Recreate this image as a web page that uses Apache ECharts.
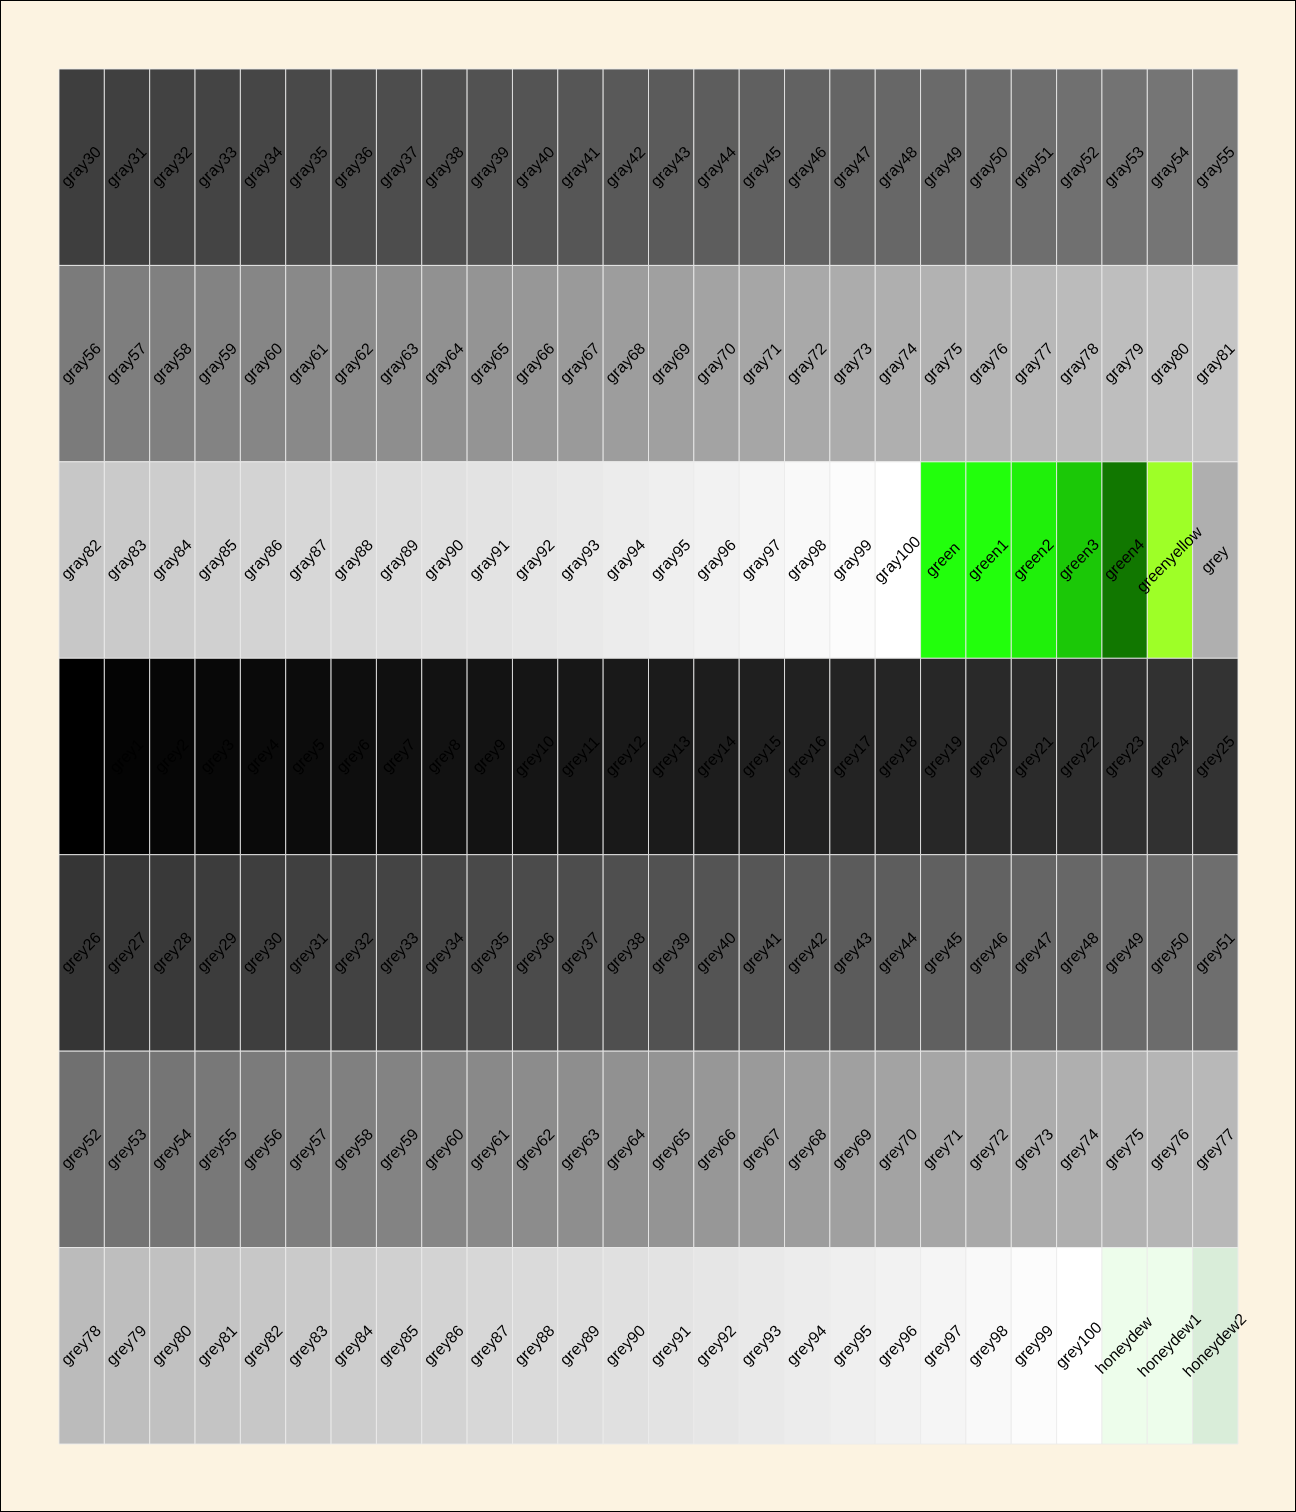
<!DOCTYPE html>
<html><head><meta charset="utf-8">
<script src="https://cdn.jsdelivr.net/npm/echarts@6/dist/echarts.min.js"></script>
<style>
html,body{margin:0;padding:0;background:#FCF3E1;}
#c{width:1296px;height:1512px;box-sizing:border-box;border:1px solid #000;}
</style>
</head><body><div id="c"></div>
<script>
// Column and row categories of the color grid
const columns = ['c1','c2','c3','c4','c5','c6','c7','c8','c9','c10','c11','c12','c13','c14','c15','c16','c17','c18','c19','c20','c21','c22','c23','c24','c25','c26'];
const rows = ['r1','r2','r3','r4','r5','r6','r7'];

// Color names, one array per row
const row1Names = ['gray30','gray31','gray32','gray33','gray34','gray35','gray36','gray37','gray38','gray39','gray40','gray41','gray42','gray43','gray44','gray45','gray46','gray47','gray48','gray49','gray50','gray51','gray52','gray53','gray54','gray55'];
const row2Names = ['gray56','gray57','gray58','gray59','gray60','gray61','gray62','gray63','gray64','gray65','gray66','gray67','gray68','gray69','gray70','gray71','gray72','gray73','gray74','gray75','gray76','gray77','gray78','gray79','gray80','gray81'];
const row3Names = ['gray82','gray83','gray84','gray85','gray86','gray87','gray88','gray89','gray90','gray91','gray92','gray93','gray94','gray95','gray96','gray97','gray98','gray99','gray100','green','green1','green2','green3','green4','greenyellow','grey'];
const row4Names = ['grey0','grey1','grey2','grey3','grey4','grey5','grey6','grey7','grey8','grey9','grey10','grey11','grey12','grey13','grey14','grey15','grey16','grey17','grey18','grey19','grey20','grey21','grey22','grey23','grey24','grey25'];
const row5Names = ['grey26','grey27','grey28','grey29','grey30','grey31','grey32','grey33','grey34','grey35','grey36','grey37','grey38','grey39','grey40','grey41','grey42','grey43','grey44','grey45','grey46','grey47','grey48','grey49','grey50','grey51'];
const row6Names = ['grey52','grey53','grey54','grey55','grey56','grey57','grey58','grey59','grey60','grey61','grey62','grey63','grey64','grey65','grey66','grey67','grey68','grey69','grey70','grey71','grey72','grey73','grey74','grey75','grey76','grey77'];
const row7Names = ['grey78','grey79','grey80','grey81','grey82','grey83','grey84','grey85','grey86','grey87','grey88','grey89','grey90','grey91','grey92','grey93','grey94','grey95','grey96','grey97','grey98','grey99','grey100','honeydew','honeydew1','honeydew2'];

// Displayed cell colors, one array per row
const row1Colors = ['#3E3E3E','#404040','#424242','#444444','#464646','#494949','#4B4B4B','#4D4D4D','#4F4F4F','#525252','#545454','#565656','#595959','#5B5B5B','#5D5D5D','#606060','#626262','#656565','#676767','#6A6A6A','#6C6C6C','#6E6E6E','#707070','#737373','#757575','#787878'];
const row2Colors = ['#7B7B7B','#7E7E7E','#808080','#838383','#868686','#898989','#8C8C8C','#8E8E8E','#919191','#949494','#979797','#9A9A9A','#9D9D9D','#A0A0A0','#A3A3A3','#A6A6A6','#A9A9A9','#ACACAC','#AFAFAF','#B2B2B2','#B5B5B5','#B8B8B8','#BBBBBB','#BEBEBE','#C1C1C1','#C4C4C4'];
const row3Colors = ['#C7C7C7','#CACACA','#CDCDCD','#D0D0D0','#D3D3D3','#D7D7D7','#DADADA','#DDDDDD','#E0E0E0','#E3E3E3','#E6E6E6','#E9E9E9','#ECECEC','#EFEFEF','#F2F2F2','#F5F5F5','#F9F9F9','#FCFCFC','#FFFFFF','#22FF0C','#22FF0C','#1FF00A','#1BC807','#117700','#9EFF27','#AFAFAF'];
const row4Colors = ['#000000','#040404','#060606','#080808','#0A0A0A','#0C0C0C','#0E0E0E','#101010','#121212','#131313','#151515','#171717','#191919','#1B1B1B','#1D1D1D','#1F1F1F','#212121','#232323','#252525','#272727','#292929','#2B2B2B','#2D2D2D','#2F2F2F','#313131','#333333'];
const row5Colors = ['#353535','#373737','#393939','#3C3C3C','#3E3E3E','#404040','#424242','#444444','#464646','#494949','#4B4B4B','#4D4D4D','#4F4F4F','#525252','#545454','#565656','#595959','#5B5B5B','#5D5D5D','#606060','#626262','#656565','#676767','#6A6A6A','#6C6C6C','#6E6E6E'];
const row6Colors = ['#707070','#737373','#757575','#787878','#7B7B7B','#7E7E7E','#808080','#838383','#868686','#898989','#8C8C8C','#8E8E8E','#919191','#949494','#979797','#9A9A9A','#9D9D9D','#A0A0A0','#A3A3A3','#A6A6A6','#A9A9A9','#ACACAC','#AFAFAF','#B2B2B2','#B5B5B5','#B8B8B8'];
const row7Colors = ['#BBBBBB','#BEBEBE','#C1C1C1','#C4C4C4','#C7C7C7','#CACACA','#CDCDCD','#D0D0D0','#D3D3D3','#D7D7D7','#DADADA','#DDDDDD','#E0E0E0','#E3E3E3','#E6E6E6','#E9E9E9','#ECECEC','#EFEFEF','#F2F2F2','#F5F5F5','#F9F9F9','#FCFCFC','#FFFFFF','#EDFDEB','#EDFDEB','#D9EDD9'];

const rowNames = [row1Names,row2Names,row3Names,row4Names,row5Names,row6Names,row7Names];
const rowColors = [row1Colors,row2Colors,row3Colors,row4Colors,row5Colors,row6Colors,row7Colors];

const data = [];
rowNames.forEach((names, r) => {
  names.forEach((name, c) => {
    data.push({ name: name, value: [c, r], color: rowColors[r][c] });
  });
});

const chart = echarts.init(document.getElementById('c'), null, { renderer: 'canvas' });
chart.setOption({
  backgroundColor: '#FCF3E1',
  animation: false,
  grid: { left: 58, top: 68, width: 1179, height: 1375 },
  xAxis: { type: 'category', data: columns, show: false },
  yAxis: { type: 'category', data: rows, inverse: true, show: false },
  series: [{
    type: 'custom',
    z: 2,
    data: data.map(d => d.value),
    renderItem: function (params, api) {
      const d = data[params.dataIndex];
      const center = api.coord([api.value(0), api.value(1)]);
      const size = api.size([1, 1]);
      return {
        type: 'rect',
        shape: { x: center[0] - size[0] / 2, y: center[1] - size[1] / 2, width: size[0], height: size[1] },
        style: { fill: d.color, stroke: 'rgba(235,235,235,0.85)', lineWidth: 1 }
      };
    }
  }, {
    type: 'custom',
    z: 5,
    data: data.map(d => d.value),
    renderItem: function (params, api) {
      const d = data[params.dataIndex];
      const center = api.coord([api.value(0), api.value(1)]);
      return {
        type: 'text',
        x: center[0], y: center[1],
        rotation: Math.PI / 4,
        style: {
          text: d.name,
          fill: '#000000',
          font: '16px "Liberation Sans", Arial, sans-serif',
          align: 'center',
          verticalAlign: 'middle'
        }
      };
    }
  }]
});
</script>
</body></html>
